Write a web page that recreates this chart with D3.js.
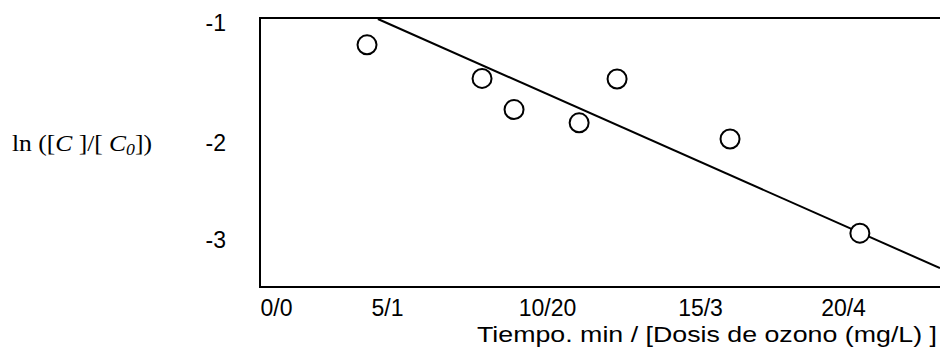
<!DOCTYPE html>
<html><head><meta charset="utf-8">
<script src="https://cdn.jsdelivr.net/npm/d3@7"></script>
<style>html,body{margin:0;padding:0;background:#fff;}svg{display:block;}</style>
</head><body>
<svg id="chart" width="940" height="362"></svg>
<script>
// Data
const xTickValues = [0, 5, 10, 15, 20];
const xTickLabels = ["0/0", "5/1", "10/20", "15/3", "20/4"];
const yTickValues = [-1, -2, -3];
const yTickLabels = ["-1", "-2", "-3"];
const pointX = [4.10, 7.97, 8.97, 11.05, 12.29, 16.05, 20.59];
const pointY = [-1.19, -1.47, -1.73, -1.84, -1.475, -1.975, -2.94];
const fitX = [4.59, 23.39];
const fitY = [-0.975, -3.30];
const xTitle = "Tiempo. min / [Dosis de ozono (mg/L) ]";

const svg = d3.select("#chart");
const frame = {left: 260, top: 18, bottom: 287, right: 940};

// Scales (the scanned axis is not evenly spaced, so the scales are piecewise linear)
const x = d3.scaleLinear().domain(xTickValues).range([276, 387, 547, 700, 843]);
const y = d3.scaleLinear().domain(yTickValues).range([22, 142, 239]);

// Frame
svg.append("path")
  .attr("d", `M${frame.right},${frame.top}H${frame.left}V${frame.bottom}H${frame.right}`)
  .attr("fill", "none").attr("stroke", "#000").attr("stroke-width", 2);

// Y tick labels
const yAxis = d3.axisLeft(y).tickValues(yTickValues).tickSize(0)
  .tickFormat((d, i) => yTickLabels[i]);
const gy = svg.append("g").attr("transform", "translate(226,0)").call(yAxis);
gy.select(".domain").remove();
gy.selectAll("text").attr("x", 0).attr("dy", "0.35em")
  .style("font-family", "Liberation Sans, Arial, sans-serif").style("font-size", "23px").attr("fill", "#000");

// X tick labels
const xAxis = d3.axisBottom(x).tickValues(xTickValues).tickSize(0)
  .tickFormat((d, i) => xTickLabels[i]);
const gx = svg.append("g").attr("transform", "translate(0,300)").call(xAxis);
gx.select(".domain").remove();
gx.selectAll("text").attr("y", 0).attr("dy", "0.71em")
  .style("font-family", "Liberation Sans, Arial, sans-serif").style("font-size", "23px").attr("fill", "#000");

// Clip
svg.append("clipPath").attr("id", "clip").append("rect")
  .attr("x", frame.left).attr("y", frame.top)
  .attr("width", frame.right - frame.left).attr("height", frame.bottom - frame.top);

// Fit line
const line = d3.line().x(d => x(d[0])).y(d => y(d[1]));
svg.append("path")
  .datum(fitX.map((v, i) => [v, fitY[i]]))
  .attr("d", line).attr("fill", "none").attr("stroke", "#000").attr("stroke-width", 2)
  .attr("clip-path", "url(#clip)");

// Points
svg.append("g").selectAll("circle")
  .data(pointX.map((v, i) => [v, pointY[i]]))
  .join("circle")
  .attr("cx", d => x(d[0])).attr("cy", d => y(d[1])).attr("r", 9.5)
  .attr("fill", "#fff").attr("stroke", "#000").attr("stroke-width", 2);

// Y title
const yt = svg.append("text").attr("x", 12).attr("y", 151)
  .attr("textLength", 140).attr("lengthAdjust", "spacingAndGlyphs")
  .style("font-family", "Liberation Serif, Times New Roman, serif").style("font-size", "23px").attr("fill", "#000");
yt.append("tspan").text("ln ([");
yt.append("tspan").style("font-style", "italic").text("C");
yt.append("tspan").text(" ]/[ ");
yt.append("tspan").style("font-style", "italic").text("C");
yt.append("tspan").style("font-style", "italic").style("font-size", "16px").attr("dy", 4).text("0");
yt.append("tspan").attr("dy", -4).text("])");

// X title
svg.append("text").attr("x", 937).attr("y", 342).attr("text-anchor", "end")
  .attr("textLength", 460).attr("lengthAdjust", "spacingAndGlyphs")
  .style("font-family", "Liberation Sans, Arial, sans-serif").style("font-size", "22px").attr("fill", "#000")
  .text(xTitle);
</script>
</body></html>
